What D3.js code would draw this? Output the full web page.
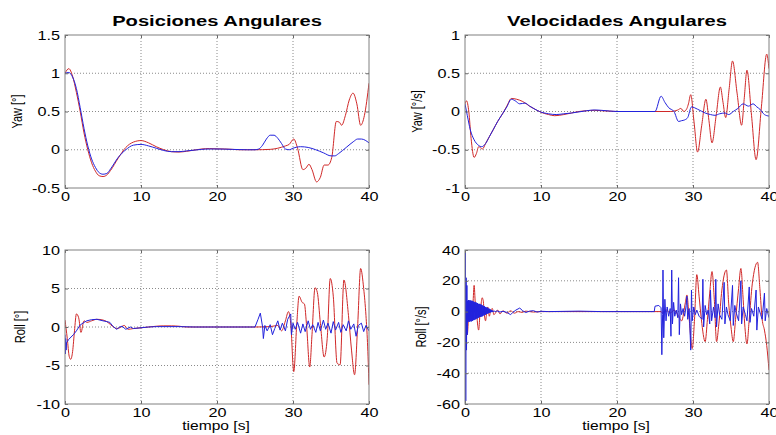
<!DOCTYPE html>
<html>
<head>
<meta charset="utf-8">
<script src="https://cdn.jsdelivr.net/npm/d3@7"></script>
<style>
  body { margin: 0; background: #fff; }
  text { font-family: "Liberation Sans", Arial, Helvetica, sans-serif; fill: #000; }
</style>
</head>
<body>
<div id="chart"></div>
<script>
// time axis shared by all panels
const xTicks = [0, 10, 20, 30, 40];

// tick labels per panel
const yawPosTicks = [-0.5, 0, 0.5, 1, 1.5];
const yawVelTicks = [-1, -0.5, 0, 0.5, 1];
const rollPosTicks = [-10, -5, 0, 5, 10];
const rollVelTicks = [-60, -40, -20, 0, 20, 40];

// Yaw position [°] — [t, value]
const yawPosRed = [[0,1.0],[0.5,1.06],[1,0.96],[1.5,0.75],[2,0.5],[2.5,0.22],[3,0.0],[3.5,-0.17],[4,-0.28],[4.5,-0.34],[5,-0.35],[5.5,-0.33],[6,-0.27],[7,-0.11],[8,0.03],[9,0.1],[10,0.12],[11,0.09],[12,0.04],[13,0.0],[14,-0.025],[15,-0.03],[16,-0.02],[17,-0.005],[18,0.01],[19,0.015],[20,0.012],[21,0.01],[22,0.005],[23,0],[25,0],[27,0.005],[28,0.02],[29,0.05],[29.5,0.07],[30.1,0.14],[30.6,0.02],[31.3,-0.26],[31.7,-0.24],[32.1,-0.19],[32.5,-0.26],[33.1,-0.42],[33.6,-0.36],[34.1,-0.2],[34.6,-0.2],[35.1,-0.1],[35.7,0.37],[36.1,0.36],[36.4,0.32],[36.9,0.45],[37.4,0.65],[37.9,0.74],[38.4,0.6],[38.9,0.32],[39.4,0.45],[40,0.87]];
const yawPosBlue = [[0,1.0],[0.5,1.01],[1,0.95],[1.5,0.8],[2,0.55],[2.5,0.28],[3,0.05],[3.5,-0.12],[4,-0.23],[4.5,-0.3],[5,-0.32],[5.5,-0.31],[6,-0.25],[7,-0.1],[8,0.0],[9,0.06],[10,0.07],[11,0.05],[12,0.02],[13,-0.01],[14,-0.025],[15,-0.025],[16,-0.015],[17,-0.005],[18,0.005],[19,0.01],[20,0.01],[22,0.005],[24,0],[25,0],[25.5,0.01],[26,0.06],[26.5,0.14],[27,0.19],[27.5,0.19],[28,0.15],[28.5,0.08],[29,0.01],[29.5,0.0],[30,0.02],[31,0.04],[32,0.03],[33,0.0],[34,-0.04],[35,-0.08],[35.5,-0.08],[36,-0.05],[37,0.03],[38,0.11],[38.5,0.14],[39,0.14],[40,0.09]];

// Yaw velocity [°/s]
const yawVelRed = [[0,0.1],[0.2,0.14],[0.5,0.0],[0.8,-0.35],[1.2,-0.6],[1.5,-0.55],[1.8,-0.46],[2.3,-0.49],[2.7,-0.42],[3.2,-0.33],[3.7,-0.24],[4.3,-0.13],[5,-0.02],[5.5,0.07],[6.1,0.17],[6.8,0.16],[7.6,0.13],[8.5,0.07],[9.4,0.02],[10,-0.01],[11,-0.04],[11.8,-0.055],[13,-0.04],[14,-0.02],[15,0.0],[16,0.01],[17,0.015],[18,0.01],[19,0.005],[20,0],[24,0],[27,0],[28,0.02],[28.4,0.04],[28.8,0.0],[29.2,0.04],[29.4,0.1],[29.7,0.22],[30.15,-0.15],[30.6,-0.53],[31.15,-0.18],[31.7,0.16],[32.1,-0.12],[32.5,-0.41],[33.05,-0.05],[33.6,0.32],[33.95,0.12],[34.3,-0.08],[34.75,0.29],[35.2,0.66],[35.8,0.24],[36.4,-0.18],[36.75,0.18],[37.1,0.54],[37.7,-0.05],[38.3,-0.63],[39.0,0.06],[39.7,0.75],[40,0.56]];
const yawVelBlue = [[0,0.1],[0.3,-0.05],[0.7,-0.24],[1.2,-0.37],[1.75,-0.44],[2.2,-0.46],[2.7,-0.42],[3.2,-0.33],[3.7,-0.24],[4.3,-0.13],[5,-0.02],[5.5,0.06],[6.1,0.16],[6.6,0.14],[7.2,0.1],[7.9,0.11],[8.5,0.07],[9.2,0.03],[9.8,0.0],[11,-0.03],[12,-0.04],[13,-0.03],[14,-0.02],[16,0.01],[17,0.02],[18,0.015],[20,0],[25,0],[25.8,0.2],[26.3,0.12],[26.8,0.05],[27.5,0.0],[28.1,-0.13],[28.5,-0.12],[28.9,-0.11],[29.3,-0.08],[29.8,0.06],[30.6,0.03],[31.6,-0.02],[32.3,-0.04],[32.9,-0.05],[33.5,-0.03],[34.2,-0.02],[34.7,-0.04],[35.3,0.0],[35.9,0.04],[36.6,0.1],[37.3,0.07],[37.9,0.1],[38.4,0.06],[38.8,0.03],[39.4,-0.04],[40,-0.06]];

// Roll position [°]
const rollPosRed = [[0,0.9],[0.3,-1.5],[0.55,-3.8],[0.75,-4.2],[1.0,-3.2],[1.25,-0.5],[1.5,1.7],[1.8,1.2],[2.1,-0.7],[2.5,0.8],[2.9,0.6],[3.5,0.8],[4.2,1.0],[5,0.9],[5.5,0.7],[6,0.3],[6.4,0.0],[6.8,-0.2],[7.2,-0.1],[7.8,0.2],[8.3,-0.3],[9,-0.2],[10,-0.1],[11,0.0],[12,0.1],[13,0.15],[14,0.15],[15,0.1],[16,0],[25,0],[27,0.05],[28,0.2],[28.5,-0.5],[29,0.8],[29.4,2.0],[29.7,0.5],[30.1,-5.8],[30.5,0.5],[30.8,4.0],[31.2,3.2],[31.5,3.0],[31.8,0.0],[32.2,-5.2],[32.5,-1.0],[32.9,5.1],[33.2,4.5],[33.6,0.5],[34.1,-3.9],[34.5,-1.5],[34.9,6.3],[35.3,4.0],[35.8,-4.7],[36.2,-4.9],[36.7,6.1],[37.3,1.5],[37.7,-3.0],[38.1,-6.2],[38.5,0.0],[38.9,7.6],[39.3,5.0],[39.6,1.5],[39.8,-2.0],[40,-7.5]];
const rollPosBlue = [[0,-1.0],[0.05,-3.5],[0.1,-1.5],[0.15,-3.0],[0.2,-2.0],[0.3,-1.9],[0.5,-1.6],[0.8,-1.3],[1.1,-1.0],[1.5,-0.5],[2.0,0.26],[2.5,0.6],[2.85,0.8],[3.5,0.95],[4.2,1.0],[5,0.8],[5.5,0.7],[5.9,0.6],[6.3,0.1],[6.8,-0.3],[7.2,0.0],[7.5,0.1],[8.0,-0.3],[8.6,0.0],[9,-0.2],[10,-0.1],[11,0.0],[12,0.05],[15,0.05],[17,0],[25,0],[25.4,1.0],[25.7,1.8],[26.0,0.0],[26.1,-1.5],[26.3,0.2],[26.6,-0.5],[27,0.3],[27.3,-1.0],[27.6,-0.2],[28,0.8],[28.3,-0.4],[28.6,0.5],[29,-0.5],[29.3,1.0],[29.7,1.7],[29.8,-1.0],[30,0.5],[30.3,-0.3],[30.6,0.6],[31,-0.8],[31.3,0.4],[31.6,-0.6],[32,0.8],[32.3,-0.3],[32.6,0.3],[33,-0.7],[33.3,0.6],[33.6,-0.5],[34,0.9],[34.3,-0.3],[34.6,0.5],[35,-0.8],[35.3,0.7],[35.6,-0.4],[36,0.6],[36.3,-0.7],[36.6,0.3],[37,-0.5],[37.3,0.8],[37.6,-0.3],[38,0.4],[38.3,-1.2],[38.6,0.2],[39,0.5],[39.3,-0.6],[39.6,0.2],[40,-0.5]];

// Roll velocity [°/s]
const rollVelRed = [[0,0],[0.15,-5],[0.3,-15],[0.45,-5],[0.6,5],[0.75,-2],[0.9,-5],[1.05,5],[1.2,17],[1.35,6],[1.5,2],[1.65,-8],[1.8,-12],[1.95,-3],[2.1,4],[2.25,9],[2.4,7],[2.55,-2],[2.7,-6],[2.85,-1],[3.0,3],[3.2,-3],[3.4,1],[3.6,2],[3.8,-2],[4.0,-1],[4.3,1],[4.6,-1.5],[5,0.5],[5.5,-1],[6,0.5],[6.5,-1],[7,0],[7.5,-0.5],[8,0.3],[9,-0.3],[10,0],[25.8,0],[26.0,-1],[26.5,1],[27.0,-1],[27.5,1],[28.0,-2],[28.5,-6],[29.0,6],[29.2,10.8],[29.5,-5],[29.9,-24],[30.2,-5],[30.5,24],[30.8,10],[31.1,-5],[31.6,-19.5],[31.9,-5],[32.2,12],[32.5,26],[32.8,8],[33.1,-19.5],[33.4,-8],[33.8,14],[34.4,27],[34.7,5],[35.0,-10],[35.3,-19.5],[35.6,-5],[36.0,15],[36.3,28],[36.6,8],[36.8,-8],[37.1,-21],[37.4,-5],[37.8,18],[38.5,32],[38.8,15],[39.1,-5],[39.4,-12],[39.7,-22],[40,-38]];
const rollVelBlue = [[0,0],[0.05,40],[0.1,-58],[0.15,22],[0.2,-25],[0.25,17],[0.3,-15],[0.35,7],[0.4,-6.5],[0.45,7.5],[0.5,-6.5],[0.55,7],[0.6,-6.5],[0.65,7.5],[0.7,-6],[0.75,7],[0.8,-6.5],[0.85,7],[0.9,-6],[0.95,7],[1.0,-6],[1.05,6.5],[1.1,-5.5],[1.15,6.5],[1.2,-5.5],[1.25,6],[1.3,-5],[1.35,6],[1.4,-5],[1.45,6],[1.5,-4.5],[1.55,5.5],[1.6,-4.5],[1.65,5.5],[1.7,-4],[1.75,5],[1.8,-4],[1.85,5],[1.9,-3.5],[1.95,5],[2.0,-3.5],[2.05,4.5],[2.1,-3.5],[2.15,4.5],[2.2,-3],[2.25,4],[2.3,-3],[2.35,4],[2.4,-2.5],[2.45,3.5],[2.5,-2.5],[2.55,3.5],[2.6,-2],[2.65,3],[2.7,-2],[2.75,3],[2.8,-1.5],[2.85,2.5],[2.9,-1.5],[2.95,2.5],[3.0,-1.2],[3.05,2],[3.1,-1],[3.15,2],[3.2,-0.8],[3.25,1.6],[3.3,-0.6],[3.35,1.3],[3.4,-0.4],[3.45,1],[3.5,-0.3],[3.55,0.8],[3.6,-0.2],[3.65,0.6],[3.7,0],[3.75,0.4],[3.8,0],[3.9,0.3],[4.0,0],[4.2,0.5],[4.6,-0.3],[5,0.2],[5.5,-0.5],[6.0,-2.0],[6.3,-0.5],[6.7,1.0],[7.2,2.3],[7.6,0.5],[8.0,-0.6],[8.5,0.3],[9.0,0.6],[9.5,-0.3],[10,0.2],[11,0],[15,0.3],[18,0],[24.9,0],[25.0,3.5],[25.5,4.0],[25.8,2.5],[25.9,-28],[26.0,-2],[26.05,27],[26.15,-17],[26.3,8],[26.45,-6],[26.6,3],[26.8,-3],[27.0,2],[27.1,-16],[27.2,27],[27.3,-8],[27.45,6],[27.6,-3],[27.8,1],[28.0,-4],[28.1,22],[28.2,-15],[28.35,5],[28.5,-2],[28.7,2],[28.9,-3],[29.1,4],[29.2,10],[29.3,-5],[29.5,2],[29.7,-25],[29.8,14],[29.9,-6],[30.1,3],[30.3,-2],[30.5,1],[30.8,-3],[31.2,-5],[31.3,21],[31.4,-10],[31.6,4],[31.8,-2],[32.0,1],[32.2,-8],[32.3,14],[32.45,-6],[32.7,3],[32.9,-4],[33.0,21],[33.1,-10],[33.3,5],[33.5,-2],[33.8,-5],[34.1,19],[34.2,-8],[34.4,3],[34.6,-2],[34.9,-6],[35.2,17],[35.3,-9],[35.5,4],[35.7,-1],[36.0,-6],[36.3,20],[36.4,-8],[36.6,3],[36.9,-2],[37.1,-6],[37.4,16],[37.5,-7],[37.7,2],[38.0,-3],[38.3,14],[38.4,-12],[38.6,3],[38.9,-2],[39.1,-5],[39.4,12],[39.5,-6],[39.7,2],[40,-4]];

const W = 776, H = 435;
const SX = 1.3; // the reference is stretched horizontally
const RED = "#d02828", BLUE = "#2222dd";

const panels = [
  { x0: 65, x1: 369, y0: 35, y1: 188, ticks: yawPosTicks, red: yawPosRed, blue: yawPosBlue, ylabel: "Yaw [°]", lx: 17, title: "Posiciones Angulares", blueSmooth: true },
  { x0: 465, x1: 769, y0: 35, y1: 188, ticks: yawVelTicks, red: yawVelRed, blue: yawVelBlue, ylabel: "Yaw [°/s]", lx: 417, title: "Velocidades Angulares", blueSmooth: true },
  { x0: 65, x1: 369, y0: 250, y1: 404, ticks: rollPosTicks, red: rollPosRed, blue: rollPosBlue, ylabel: "Roll [°]", lx: 20, xlabel: "tiempo [s]", blueSmooth: false },
  { x0: 465, x1: 769, y0: 250, y1: 404, ticks: rollVelTicks, red: rollVelRed, blue: rollVelBlue, ylabel: "Roll [°/s]", lx: 421, xlabel: "tiempo [s]", blueSmooth: false }
];

const svg = d3.select("#chart").append("svg")
  .attr("width", W).attr("height", H);
svg.append("rect").attr("width", W).attr("height", H).attr("fill", "#fff");

function widen(sel) {
  sel.each(function () {
    const t = d3.select(this);
    const x = +t.attr("x") || 0;
    t.attr("x", 0).attr("transform", `translate(${x},0) scale(${SX},1)`);
  });
}

panels.forEach((p, i) => {
  const x = d3.scaleLinear().domain([0, 40]).range([p.x0, p.x1]);
  const y = d3.scaleLinear().domain(d3.extent(p.ticks)).range([p.y1, p.y0]);
  const g = svg.append("g");

  // dotted grid
  g.selectAll(".vgrid").data(xTicks.slice(1, -1)).join("line")
    .attr("x1", d => x(d)).attr("x2", d => x(d))
    .attr("y1", p.y0).attr("y2", p.y1)
    .attr("stroke", "#8a8a8a").attr("stroke-width", 1)
    .attr("stroke-dasharray", "1,2");
  g.selectAll(".hgrid").data(p.ticks.slice(1, -1)).join("line")
    .attr("x1", p.x0).attr("x2", p.x1)
    .attr("y1", d => y(d)).attr("y2", d => y(d))
    .attr("stroke", "#8a8a8a").attr("stroke-width", 1)
    .attr("stroke-dasharray", "1,2");

  svg.append("clipPath").attr("id", "clip" + i)
    .append("rect").attr("x", p.x0).attr("y", p.y0)
    .attr("width", p.x1 - p.x0).attr("height", p.y1 - p.y0);

  const smoothLine = d3.line()
    .x(d => x(d[0])).y(d => y(d[1]))
    .curve(d3.curveMonotoneX);
  const rawLine = d3.line()
    .x(d => x(d[0])).y(d => y(d[1]));

  const lines = g.append("g").attr("clip-path", `url(#clip${i})`);
  lines.append("path").datum(p.red)
    .attr("d", smoothLine).attr("fill", "none")
    .attr("stroke", RED).attr("stroke-width", 1);
  lines.append("path").datum(p.blue)
    .attr("d", p.blueSmooth ? smoothLine : rawLine).attr("fill", "none")
    .attr("stroke", BLUE).attr("stroke-width", 1);

  // axes
  const fmt = d => String(d);
  const ax = g.append("g").attr("transform", `translate(0,${p.y1})`)
    .style("font-size", "12.5px")
    .call(d3.axisBottom(x).tickValues(xTicks).tickFormat(fmt)
      .tickSizeInner(-3).tickSizeOuter(0).tickPadding(4));
  ax.select(".domain").remove();
  ax.selectAll("text").attr("fill", "#000").call(widen);

  const ay = g.append("g").attr("transform", `translate(${p.x0},0)`)
    .style("font-size", "12.5px")
    .call(d3.axisLeft(y).tickValues(p.ticks).tickFormat(fmt)
      .tickSizeInner(-3).tickSizeOuter(0).tickPadding(5));
  ay.select(".domain").remove();
  ay.selectAll("text").attr("fill", "#000").call(widen);

  g.append("g").attr("transform", `translate(0,${p.y0})`)
    .call(d3.axisTop(x).tickValues(xTicks).tickFormat("").tickSizeInner(-3).tickSizeOuter(0))
    .call(s => s.select(".domain").remove());
  g.append("g").attr("transform", `translate(${p.x1},0)`)
    .call(d3.axisRight(y).tickValues(p.ticks).tickFormat("").tickSizeInner(-3).tickSizeOuter(0))
    .call(s => s.select(".domain").remove());
  g.selectAll(".tick line").attr("stroke", "#666");

  g.append("rect")
    .attr("x", p.x0).attr("y", p.y0)
    .attr("width", p.x1 - p.x0).attr("height", p.y1 - p.y0)
    .attr("fill", "none").attr("stroke", "#808080").attr("stroke-width", 1);

  // labels
  const cx = (p.x0 + p.x1) / 2, cy = (p.y0 + p.y1) / 2;
  g.append("text")
    .attr("transform", `translate(${p.lx},${cy}) scale(${SX},1) rotate(-90)`)
    .attr("text-anchor", "middle").attr("dy", "0.35em")
    .style("font-size", "11px")
    .text(p.ylabel);

  if (p.title) {
    g.append("text")
      .attr("transform", `translate(${cx},26) scale(${SX},1)`)
      .attr("text-anchor", "middle")
      .style("font-size", "15.5px").style("font-weight", "bold")
      .text(p.title);
  }
  if (p.xlabel) {
    g.append("text")
      .attr("transform", `translate(${cx - 1},430) scale(${SX},1)`)
      .attr("text-anchor", "middle")
      .style("font-size", "12px")
      .text(p.xlabel);
  }
});
</script>
</body>
</html>
